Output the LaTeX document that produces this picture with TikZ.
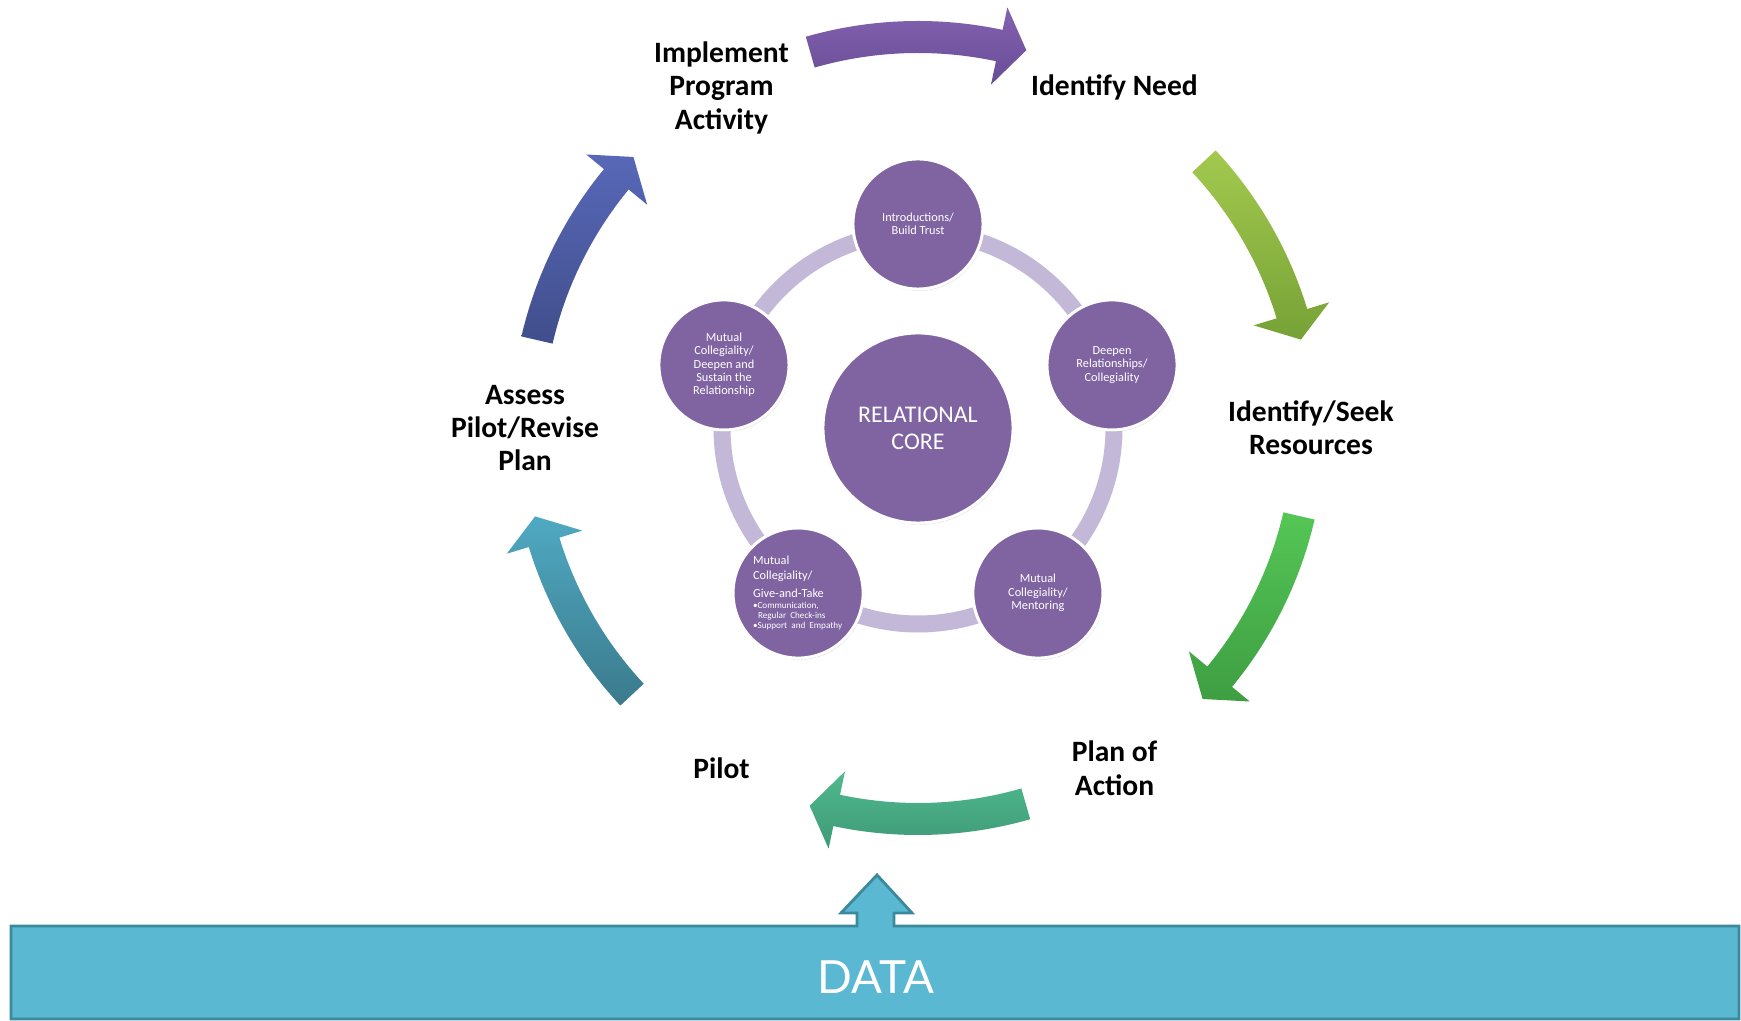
\documentclass[tikz,border=0pt]{standalone}
\usepackage{fontspec}
\setmainfont{Carlito}
\newfontfamily\datafont{Lato}
\usetikzlibrary{shadows}

\definecolor{corepurple}{HTML}{8064A2}
\definecolor{ringlilac}{HTML}{C3B8D7}
\definecolor{datablue}{HTML}{5BB8D3}
\definecolor{dataedge}{HTML}{3B8A9C}

\begin{document}
\begin{tikzpicture}[x=0.01cm, y=0.01cm,
  stage/.style={font=\bfseries\fontsize{8.4}{9.5}\selectfont, align=center, text=black},
  bubble/.style={circle, fill=corepurple, draw=white, line width=0.85pt,
    minimum size=1.3cm, inner sep=0pt, text=white, align=center,
    font=\fontsize{3.5}{3.8}\selectfont,
    drop shadow={opacity=0.25, shadow xshift=0.3pt, shadow yshift=-0.5pt}}]
\useasboundingbox (0,0) rectangle (1741,1021);

% Ring linking the relationship stages
\coordinate (hub) at (918,593);
\draw[ringlilac, line width=0.17cm] (hub) circle[radius=196];

% Relational core and the five stages around it
\node[bubble, minimum size=1.9cm, font=\fontsize{6.8}{7.7}\selectfont] (core) at (hub) {RELATIONAL\\CORE};
\node[bubble] (trust) at ([shift={(90:204)}]hub) {Introductions/\\Build Trust};
\node[bubble] (deepen) at ([shift={(18:204)}]hub) {Deepen\\Relationships/\\Collegiality};
\node[bubble] (mentor) at ([shift={(-54:204)}]hub) {Mutual\\Collegiality/\\Mentoring};
\node[bubble, text width=0.9cm, align=left] (givetake) at ([shift={(-126:204)}]hub) {%
  \fontsize{3.5}{4.2}\selectfont Mutual\\Collegiality/\par
  \vspace{0.8pt}Give-and-Take\par
  \vspace{0.4pt}\fontsize{2.6}{2.85}\selectfont\mbox{\textbullet Communication,}\\
  \mbox{\hspace*{0.05cm}Regular Check-ins}\\\mbox{\textbullet Support and Empathy}\par};
\node[bubble] (sustain) at ([shift={(162:204)}]hub) {Mutual\\Collegiality/\\Deepen and\\Sustain the\\Relationship};

% Program cycle labels
\node[stage] (implement) at ([shift={(120:393)}]hub) {Implement\\Program\\Activity};
\node[stage] (need) at ([shift={(60:393)}]hub) {Identify Need};
\node[stage] (seek) at ([shift={(0:393)}]hub) {Identify/Seek\\Resources};
\node[stage] (plan) at ([shift={(-60:393)}]hub) {Plan of\\Action};
\node[stage] (pilot) at ([shift={(-120:393)}]hub) {Pilot};
\node[stage] (assess) at ([shift={(180:393)}]hub) {Assess\\Pilot/Revise\\Plan};

% Curved cycle arrows (clockwise)
\begin{scope}[shift={(hub)}]
\shade[top color={rgb,255:red,132;green,98;blue,176}, bottom color={rgb,255:red,104;green,76;blue,150}]
  (106:407) arc[start angle=106, end angle=78, radius=407] -- (78:430) -- (74:393) -- (78:351)
  -- (78:375) arc[start angle=78, end angle=106, radius=375] -- cycle;
\shade[top color={rgb,255:red,163;green,201;blue,78}, bottom color={rgb,255:red,118;green,162;blue,54}]
  (43:407) arc[start angle=43, end angle=17, radius=407] -- (17:430) -- (13:393) -- (17:351)
  -- (17:375) arc[start angle=17, end angle=43, radius=375] -- cycle;
\shade[top color={rgb,255:red,85;green,198;blue,86}, bottom color={rgb,255:red,62;green,158;blue,66}]
  (-13:407) arc[start angle=-13, end angle=-39.5, radius=407] -- (-39.5:430) -- (-43.6:393) -- (-39.5:351)
  -- (-39.5:375) arc[start angle=-39.5, end angle=-13, radius=375] -- cycle;
\shade[top color={rgb,255:red,80;green,185;blue,142}, bottom color={rgb,255:red,62;green,154;blue,119}]
  (-74:407) arc[start angle=-74, end angle=-102, radius=407] -- (-102:430) -- (-106:393) -- (-102:351)
  -- (-102:375) arc[start angle=-102, end angle=-74, radius=375] -- cycle;
\shade[top color={rgb,255:red,79;green,169;blue,194}, bottom color={rgb,255:red,59;green,122;blue,140}]
  (-137:407) arc[start angle=-137, end angle=-163, radius=407] -- (-163:430) -- (-167:393) -- (-163:351)
  -- (-163:375) arc[start angle=-163, end angle=-137, radius=375] -- cycle;
\shade[top color={rgb,255:red,88;green,104;blue,184}, bottom color={rgb,255:red,65;green,78;blue,140}]
  (167:407) arc[start angle=167, end angle=140.5, radius=407] -- (140.5:430) -- (136.4:393) -- (140.5:351)
  -- (140.5:375) arc[start angle=140.5, end angle=167, radius=375] -- cycle;
\end{scope}

% Data bar feeding the cycle
\draw[fill=datablue, draw=dataedge, line width=0.8pt]
  (11,2) -- (11,95) -- (857,95) -- (857,108) -- (841,108) -- (877,146) -- (912,108)
  -- (894,108) -- (894,95) -- (1739,95) -- (1739,2) -- cycle;
\node[text=white, font=\datafont\fontsize{13}{13}\selectfont] (data) at (876,44) {DATA};

\end{tikzpicture}
\end{document}
